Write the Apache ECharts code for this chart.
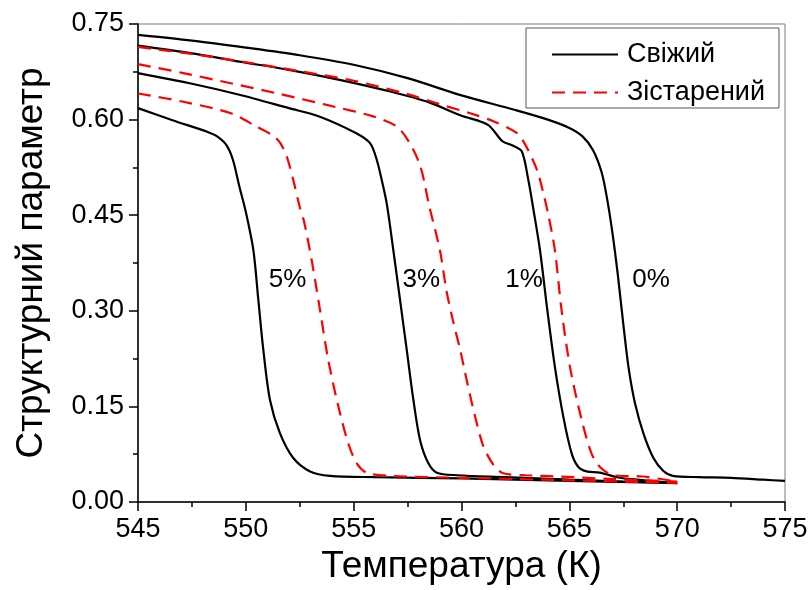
<!DOCTYPE html>
<html>
<head>
<meta charset="utf-8">
<script src="https://cdn.jsdelivr.net/npm/echarts@6/dist/echarts.min.js"></script>
<style>
  html, body { margin: 0; padding: 0; background: #fff; }
  #chart { width: 812px; height: 590px; }
</style>
</head>
<body>
<div id="chart"></div>
<script>
// Structural order parameter vs temperature, [T (K), value] pairs
const fresh0 = [[545,0.733],[547.5,0.724],[550,0.713],[552.5,0.701],[555,0.686],[557.5,0.665],[560,0.638],[562.5,0.615],[564,0.600],[565,0.587],[565.6,0.574],[566.1,0.552],[566.5,0.517],[566.75,0.476],[567.0,0.422],[567.25,0.356],[567.5,0.280],[567.75,0.210],[568.05,0.154],[568.45,0.106],[568.9,0.069],[569.35,0.049],[569.8,0.041],[571,0.039],[572.5,0.038],[574,0.035],[575,0.033]];
const fresh1 = [[545,0.716],[547.5,0.704],[549.7,0.691],[552,0.678],[554.4,0.662],[556.7,0.644],[558.5,0.627],[560,0.606],[560.8,0.598],[561.3,0.590],[561.9,0.566],[562.4,0.559],[562.8,0.550],[563.1,0.505],[563.3,0.466],[563.64,0.395],[563.98,0.301],[564.33,0.212],[564.72,0.134],[565.11,0.076],[565.42,0.055],[565.8,0.048],[566.4,0.046],[567.35,0.038],[568.5,0.034],[570,0.029]];
const aged1 = [[545,0.714],[547.5,0.703],[550,0.690],[552.5,0.676],[555,0.661],[557.5,0.640],[559,0.624],[560.4,0.610],[561.5,0.597],[562.56,0.579],[563.0,0.558],[563.5,0.521],[563.8,0.484],[564.03,0.450],[564.33,0.395],[564.64,0.301],[565.03,0.212],[565.57,0.129],[566.03,0.076],[566.42,0.055],[567.04,0.042],[568.4,0.040],[570,0.032]];
const aged3 = [[545,0.687],[547.1,0.673],[549.3,0.657],[551.6,0.640],[553.75,0.623],[555.9,0.605],[557.0,0.589],[557.6,0.563],[558.1,0.526],[558.5,0.465],[559.0,0.395],[559.3,0.332],[559.6,0.285],[559.93,0.240],[560.25,0.190],[560.63,0.134],[561.02,0.087],[561.49,0.058],[561.94,0.045],[563,0.042],[564.6,0.040],[567,0.036],[570,0.032]];
const fresh3 = [[545,0.673],[547.4,0.657],[549.7,0.639],[552,0.618],[553.4,0.605],[555.1,0.579],[555.76,0.563],[556.07,0.537],[556.37,0.495],[556.55,0.465],[556.84,0.395],[557.15,0.317],[557.46,0.239],[557.77,0.160],[558.08,0.097],[558.46,0.061],[558.85,0.046],[559.8,0.042],[562,0.039],[565,0.035],[567.5,0.032],[570,0.030]];
const aged5 = [[545,0.641],[547.1,0.628],[549.3,0.610],[550.5,0.589],[551.3,0.574],[551.6,0.563],[551.9,0.542],[552.2,0.505],[552.5,0.463],[552.7,0.440],[553.05,0.380],[553.44,0.301],[553.82,0.223],[554.29,0.150],[554.75,0.092],[555.14,0.061],[555.6,0.046],[556.7,0.041],[560,0.038],[565,0.034],[570,0.030]];
const fresh5 = [[545,0.618],[546.6,0.599],[548.2,0.581],[548.65,0.574],[549.1,0.560],[549.4,0.537],[549.7,0.495],[550.0,0.455],[550.35,0.395],[550.58,0.317],[550.81,0.239],[551.12,0.160],[551.58,0.108],[552.2,0.069],[552.98,0.048],[553.9,0.041],[556,0.039],[560,0.037],[565,0.033],[570,0.030]];

// Concentration labels placed in data coordinates
const curveLabels = [[551.93,0.348,'5%'],[558.14,0.348,'3%'],[562.9,0.348,'1%'],[568.79,0.348,'0%']];

const seriesNames = ['Свіжий', 'Зістарений'];
const xTicks = { min: 545, max: 575, step: 5 };
const yTicks = { min: 0, max: 0.75, step: 0.15 };

const FONT = 'Arial, "Liberation Sans", sans-serif';

function curve(name, data, dashed) {
  return {
    type: 'line',
    name: name,
    data: data,
    showSymbol: false,
    symbol: 'none',
    smooth: 0.3,
    z: dashed ? 3 : 2,
    lineStyle: dashed
      ? { color: '#ff0000', width: 2.2, type: [13, 8] }
      : { color: '#000000', width: 2.2, type: 'solid' },
    itemStyle: { color: dashed ? '#ff0000' : '#000000' }
  };
}

const chart = echarts.init(document.getElementById('chart'), null, { renderer: 'canvas' });

chart.setOption({
  animation: false,
  backgroundColor: '#ffffff',
  grid: {
    left: 138, right: 27, top: 24, bottom: 88,
    show: true, borderColor: '#7a7a7a', borderWidth: 1, backgroundColor: 'transparent'
  },
  legend: {
    data: seriesNames,
    orient: 'vertical',
    left: 526, top: 28,
    padding: [13, 14, 2, 25],
    itemWidth: 66, itemHeight: 26, itemGap: 11,
    borderColor: '#555', borderWidth: 1,
    backgroundColor: '#fff',
    itemStyle: { opacity: 0 },
    textStyle: { fontFamily: FONT, fontSize: 27, color: '#000', lineHeight: 26, padding: [0, 0, 0, 4] }
  },
  xAxis: {
    type: 'value',
    min: xTicks.min, max: xTicks.max, interval: xTicks.step,
    name: 'Температура (К)',
    nameLocation: 'middle', nameGap: 44,
    nameTextStyle: { fontFamily: FONT, fontSize: 37, color: '#000' },
    axisLine: { show: true, onZero: false, lineStyle: { color: '#000', width: 1.5 } },
    axisTick: { show: true, inside: false, length: 9, lineStyle: { color: '#000', width: 1.5 } },
    minorTick: { show: true, splitNumber: 2, length: 5, lineStyle: { color: '#000', width: 1.5 } },
    axisLabel: { fontFamily: FONT, fontSize: 27, color: '#000', margin: 14 },
    splitLine: { show: false }
  },
  yAxis: {
    type: 'value',
    min: yTicks.min, max: yTicks.max, interval: yTicks.step,
    name: 'Структурний параметр',
    nameLocation: 'middle', nameGap: 88,
    nameTextStyle: { fontFamily: FONT, fontSize: 37, color: '#000' },
    axisLine: { show: true, onZero: false, lineStyle: { color: '#000', width: 1.5 } },
    axisTick: { show: true, inside: false, length: 9, lineStyle: { color: '#000', width: 1.5 } },
    minorTick: { show: true, splitNumber: 2, length: 5, lineStyle: { color: '#000', width: 1.5 } },
    axisLabel: { fontFamily: FONT, fontSize: 27, color: '#000', margin: 14, formatter: v => v.toFixed(2) },
    splitLine: { show: false }
  },
  series: [
    curve('Свіжий', fresh0, false),
    curve('Свіжий', fresh1, false),
    curve('Зістарений', aged1, true),
    curve('Зістарений', aged3, true),
    curve('Свіжий', fresh3, false),
    curve('Зістарений', aged5, true),
    curve('Свіжий', fresh5, false),
    {
      type: 'scatter',
      name: 'labels',
      data: curveLabels.map(d => ({ value: [d[0], d[1]], name: d[2] })),
      symbolSize: 1,
      silent: true,
      z: 5,
      itemStyle: { opacity: 1, color: 'rgba(0,0,0,0)' },
      label: {
        show: true, position: 'inside', formatter: p => p.name,
        fontFamily: FONT, fontSize: 26, color: '#000', opacity: 1
      }
    }
  ]
});
</script>
</body>
</html>
